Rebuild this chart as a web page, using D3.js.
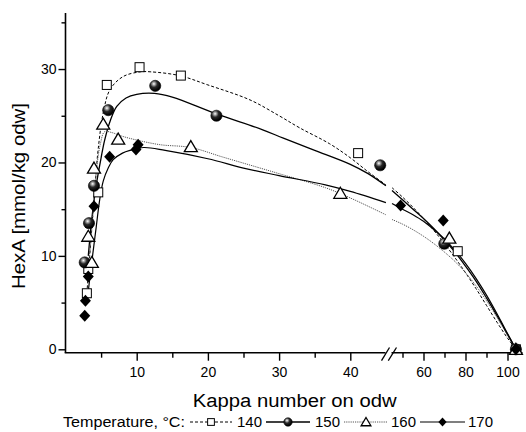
<!DOCTYPE html>
<html><head><meta charset="utf-8">
<script src="https://cdn.jsdelivr.net/npm/d3@7"></script>
<style>body{margin:0;background:#fff}svg{display:block}text{font-family:"Liberation Sans",Arial,sans-serif;fill:#000}</style>
</head><body><div id="chart"></div>
<script>
// ---- data ----
const seriesNames = ["140", "150", "160", "170"];
// measured points (Kappa number, HexA)
const kappa140 = [3.0, 3.2, 4.6, 5.8, 10.4, 16.2, 41.1, 76.3, 104];
const hexa140  = [6.0, 8.6, 16.8, 28.3, 30.2, 29.3, 21.0, 10.5, 0];
const kappa150 = [2.7, 3.3, 4.0, 6.0, 12.6, 21.2, 44.2, 69.9, 104];
const hexa150  = [9.3, 13.5, 17.5, 25.6, 28.2, 25.0, 19.7, 11.3, 0];
const kappa160 = [3.7, 3.2, 4.0, 5.3, 7.4, 17.6, 38.6, 72.3, 104];
const hexa160  = [9.3, 12.1, 19.4, 24.1, 22.5, 21.7, 16.7, 11.9, 0];
const kappa170 = [2.7, 2.8, 3.2, 4.0, 6.2, 9.9, 10.2, 49.1, 69.4, 104];
const hexa170  = [3.6, 5.2, 7.8, 15.3, 20.6, 21.4, 21.9, 15.4, 13.8, 0];
// fitted curves
const fitK140 = [3.0, 3.4, 3.8, 4.2, 4.6, 5.3, 6.25, 8.1, 10.5, 12, 16, 20, 25.9, 30, 32.9, 37.1, 40, 42.5, 45];
const fitH140 = [6, 10, 14, 18, 21.5, 25.3, 27.8, 29.2, 29.7, 29.7, 29.3, 28.3, 26.7, 25.0, 23.7, 22.0, 20.5, 19.0, 17.6];
const fitK140r = [45, 50, 55, 60, 65, 70, 75, 80, 85, 90, 95, 100, 104];
const fitH140r = [17.3, 16.3, 15.2, 14.0, 12.7, 11.3, 9.8, 8.2, 6.5, 4.7, 2.9, 1.2, 0];
const fitK150 = [3.2, 3.7, 4.3, 5, 5.5, 6.3, 7.2, 8.5, 10, 12.5, 15, 21.2, 27.7, 30.6, 35, 40, 42.5, 45];
const fitH150 = [10, 14, 17.5, 20.5, 22.4, 24.5, 26.0, 26.9, 27.3, 27.4, 27.0, 25.2, 23.5, 22.6, 21.3, 19.8, 18.8, 17.5];
const fitK150r = [45, 50, 55, 60, 65, 70, 75, 80, 85, 90, 95, 100, 104];
const fitH150r = [17.0, 16.0, 15.0, 14.0, 12.9, 11.7, 10.4, 8.9, 7.3, 5.5, 3.6, 1.6, 0];
const fitK160 = [3.2, 3.6, 4.0, 4.4, 4.9, 5.5, 6.5, 8, 10, 13.3, 17.6, 22, 26.9, 30, 36.5, 40, 45];
const fitH160 = [9, 12, 16, 19.5, 22, 23.3, 23.2, 22.8, 22.4, 21.9, 21.6, 20.6, 19.5, 18.8, 17.3, 16.2, 14.4];
const fitK160r = [45, 50, 55, 60, 65, 70, 75, 80, 85, 90, 95, 100, 104];
const fitH160r = [13.9, 13.4, 12.8, 12.1, 11.3, 10.4, 9.4, 8.2, 6.8, 5.2, 3.4, 1.5, 0];
const fitK170 = [3.0, 3.8, 4.3, 4.8, 5.3, 6.0, 6.7, 8, 9.1, 11, 14, 20, 25, 30, 36.5, 40, 45];
const fitH170 = [5, 10, 13, 16, 18, 19.4, 20.3, 21.0, 21.3, 21.6, 21.3, 20.4, 19.4, 18.6, 17.6, 16.9, 15.7];
const fitK170r = [45, 50, 55, 60, 65, 70, 75, 80, 85, 90, 95, 100, 104];
const fitH170r = [15.6, 15.0, 14.4, 13.7, 12.8, 11.8, 10.6, 9.2, 7.6, 5.8, 3.8, 1.7, 0];
// axis ticks
const yMajor = [0, 10, 20, 30];
const yMinor = [5, 15, 25, 35];
const xLeftMajor = [10, 20, 30, 40];
const xLeftMinor = [5, 15, 25, 35];
const xRightMajor = [60, 80, 100];
const xRightMinor = [50, 70, 90];
const xTitle = "Kappa number on odw";
const yTitle = "HexA [mmol/kg odw]";
const legendTitle = "Temperature, °C:";

// ---- drawing ----
const W = 526, H = 432;
const svg = d3.select("#chart").append("svg").attr("width", W).attr("height", H);
const defs = svg.append("defs");
const grad = defs.append("radialGradient").attr("id", "ball").attr("cx", "38%").attr("cy", "32%").attr("r", "62%");
grad.append("stop").attr("offset", "0%").attr("stop-color", "#ffffff");
grad.append("stop").attr("offset", "18%").attr("stop-color", "#b0b0b0");
grad.append("stop").attr("offset", "50%").attr("stop-color", "#2a2a2a");
grad.append("stop").attr("offset", "100%").attr("stop-color", "#000000");

const y = d3.scaleLinear().domain([0, 36]).range([349.3, 13]);
const xL = d3.scaleLinear().domain([0, 45]).range([65.5, 385.9]);
const xR = d3.scaleLinear().domain([45, 107]).range([392, 522.2]);
const xAny = k => k <= 45 ? xL(k) : xR(k);
const yAxisY = 352.7;

// axes
const gy = svg.append("g").attr("transform", "translate(65.5,0)");
gy.call(d3.axisLeft(y).tickValues(yMajor).tickSize(7).tickPadding(2).tickFormat(d3.format("d")));
svg.append("g").attr("transform", "translate(65.5,0)")
  .call(d3.axisLeft(y).tickValues(yMinor).tickSize(4).tickFormat(""));
svg.selectAll("g .domain").remove();
svg.append("line").attr("x1", 65.5).attr("x2", 65.5).attr("y1", 13).attr("y2", yAxisY).attr("stroke", "#000").attr("stroke-width", 1.6);

function xAxis(scale, major, minor) {
  const g = svg.append("g").attr("transform", `translate(0,${yAxisY})`);
  g.call(d3.axisBottom(scale).tickValues(major).tickSize(8).tickPadding(6).tickFormat(d3.format("d")));
  g.select(".domain").remove();
  const g2 = svg.append("g").attr("transform", `translate(0,${yAxisY})`);
  g2.call(d3.axisBottom(scale).tickValues(minor).tickSize(5).tickFormat(""));
  g2.select(".domain").remove();
  return g;
}
xAxis(xL, xLeftMajor, xLeftMinor);
xAxis(xR, xRightMajor, xRightMinor);
svg.selectAll(".tick line").attr("stroke", "#000").attr("stroke-width", 1.4);
svg.selectAll(".tick text").attr("font-size", 14).attr("fill", "#000").style("font-family", '"Liberation Sans",Arial,sans-serif');
svg.append("line").attr("x1", 64.7).attr("x2", 385.5).attr("y1", yAxisY).attr("y2", yAxisY).attr("stroke", "#000").attr("stroke-width", 1.6);
svg.append("line").attr("x1", 391.5).attr("x2", 522.5).attr("y1", yAxisY).attr("y2", yAxisY).attr("stroke", "#000").attr("stroke-width", 1.6);
// break marks
[[381.5, 389.5], [388.3, 396.5]].forEach(([a, b]) => {
  svg.append("line").attr("x1", a).attr("y1", 360.7).attr("x2", b).attr("y2", 347.5).attr("stroke", "#000").attr("stroke-width", 1.3);
});

// titles
svg.append("text").attr("x", 192.7).attr("y", 406.7).attr("font-size", 18)
  .attr("textLength", 204).attr("lengthAdjust", "spacingAndGlyphs").text(xTitle);
svg.append("text").attr("transform", "translate(25,289) rotate(-90)").attr("font-size", 18)
  .attr("textLength", 186).attr("lengthAdjust", "spacingAndGlyphs").text(yTitle);

// curves
const styles = {
  "140": {dash: "3,2", color: "#000", width: 1},
  "150": {dash: null, color: "#000", width: 1.3},
  "160": {dash: "1.2,1", color: "#555", width: 1},
  "170": {dash: null, color: "#000", width: 1.2}
};
const fits = {
  "140": [[fitK140, fitH140, xL], [fitK140r, fitH140r, xR]],
  "150": [[fitK150, fitH150, xL], [fitK150r, fitH150r, xR]],
  "160": [[fitK160, fitH160, xL], [fitK160r, fitH160r, xR]],
  "170": [[fitK170, fitH170, xL], [fitK170r, fitH170r, xR]]
};
seriesNames.forEach(s => {
  fits[s].forEach(([ks, hs, sc]) => {
    const pts = ks.map((k, i) => [sc(k), y(hs[i])]);
    svg.append("path").attr("d", d3.line().curve(d3.curveCatmullRom.alpha(0.5))(pts))
      .attr("fill", "none").attr("stroke", styles[s].color).attr("stroke-width", styles[s].width)
      .attr("stroke-dasharray", styles[s].dash);
  });
});

// markers
function marker(g, s, cx, cy, k) {
  k = k || 1;
  if (s === "140") {
    g.append("rect").attr("x", cx - 4.5 * k).attr("y", cy - 4.5 * k).attr("width", 9 * k).attr("height", 9 * k)
      .attr("fill", "#fff").attr("stroke", "#000").attr("stroke-width", 1);
  } else if (s === "150") {
    g.append("circle").attr("cx", cx).attr("cy", cy).attr("r", 5.6 * k).attr("fill", "url(#ball)").attr("stroke", "#000").attr("stroke-width", 0.6);
  } else if (s === "160") {
    g.append("path").attr("d", `M${cx},${cy - 6 * k}L${cx + 6.5 * k},${cy + 5 * k}L${cx - 6.5 * k},${cy + 5 * k}Z`)
      .attr("fill", "#fff").attr("stroke", "#000").attr("stroke-width", 1.3);
  } else {
    g.append("path").attr("d", `M${cx},${cy - 6 * k}L${cx + 5.5 * k},${cy}L${cx},${cy + 6 * k}L${cx - 5.5 * k},${cy}Z`).attr("fill", "#000");
  }
}
const pts = {
  "140": [kappa140, hexa140], "150": [kappa150, hexa150],
  "160": [kappa160, hexa160], "170": [kappa170, hexa170]
};
const gm = svg.append("g");
seriesNames.forEach(s => {
  const [ks, hs] = pts[s];
  ks.forEach((k, i) => marker(gm, s, xAny(k), y(hs[i])));
});

// legend
const lg = svg.append("g");
lg.append("text").attr("x", 63).attr("y", 427).attr("font-size", 14)
  .attr("textLength", 122).attr("lengthAdjust", "spacingAndGlyphs").text(legendTitle);
const legendX = [[190, 232, 237], [266, 310, 315], [344, 388, 391], [420, 465, 468]];
seriesNames.forEach((s, i) => {
  const [a, b, t] = legendX[i];
  lg.append("line").attr("x1", a).attr("x2", b).attr("y1", 422).attr("y2", 422)
    .attr("stroke", styles[s].color).attr("stroke-width", styles[s].width).attr("stroke-dasharray", styles[s].dash);
  marker(lg, s, (a + b) / 2, 422, 0.75);
  lg.append("text").attr("x", t).attr("y", 427).attr("font-size", 14)
    .attr("textLength", 25).attr("lengthAdjust", "spacingAndGlyphs").text(s);
});
</script></body></html>
